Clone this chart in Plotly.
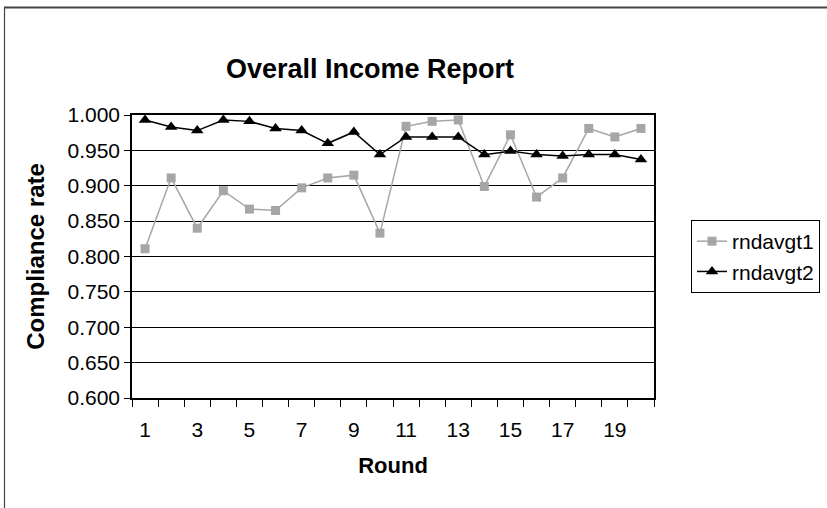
import plotly.graph_objects as go

rounds = list(range(1, 21))
rndavgt1 = [0.811, 0.911, 0.840, 0.893, 0.867, 0.865, 0.897, 0.911, 0.915, 0.833,
            0.984, 0.991, 0.993, 0.899, 0.972, 0.884, 0.911, 0.981, 0.969, 0.981]
rndavgt2 = [0.993, 0.983, 0.978, 0.993, 0.991, 0.981, 0.978, 0.960, 0.976, 0.944,
            0.969, 0.969, 0.969, 0.944, 0.949, 0.944, 0.942, 0.944, 0.944, 0.937]
xtick_vals = list(range(1, 21, 2))
ytick_vals = [0.60, 0.65, 0.70, 0.75, 0.80, 0.85, 0.90, 0.95, 1.00]

FONT = "Arial, Liberation Sans, sans-serif"

fig = go.Figure()
fig.add_trace(go.Scatter(
    x=rounds, y=rndavgt1, name="rndavgt1", mode="lines+markers",
    line=dict(color="#a6a6a6", width=1.5),
    marker=dict(symbol="square", size=9, color="#a6a6a6"),
))
fig.add_trace(go.Scatter(
    x=rounds, y=rndavgt2, name="rndavgt2", mode="lines+markers",
    line=dict(color="#000000", width=1.5),
    marker=dict(symbol="triangle-up", size=11, color="#000000"),
))

L, R, T, B = 132, 654, 115, 398
W, H = 827, 508

def px_x(p):
    return (p - L) / (R - L)

def px_y(p):
    return (B - p) / (B - T)

fig.update_layout(
    width=W, height=H,
    margin=dict(l=L, r=W - R, t=T, b=H - B, autoexpand=False),
    paper_bgcolor="white", plot_bgcolor="white",
    font=dict(family=FONT, color="#000000", size=21),
    title=dict(text="<b>Overall Income Report</b>", x=px_x(370), xref="paper", xanchor="center",
               y=1 - 69 / H, yanchor="middle", font=dict(size=27, family=FONT)),
    showlegend=True,
    legend=dict(x=px_x(691), y=px_y(220), xanchor="left", yanchor="top",
                bordercolor="#000000", borderwidth=1, bgcolor="white",
                font=dict(size=21, family=FONT), itemwidth=30,
                tracegroupgap=0),
    xaxis=dict(
        range=[0.5, 20.5], tickmode="array", tickvals=xtick_vals,
        ticktext=[str(v) for v in xtick_vals], ticks="",
        showgrid=False, zeroline=False,
        showline=True, linecolor="#000000", linewidth=1.5, mirror=True,
        minor=dict(tickmode="linear", tick0=0.5, dtick=1, ticks="outside",
                   ticklen=7, tickcolor="#000000", tickwidth=1, showgrid=False),
        title=dict(text="<b>Round</b>", font=dict(size=22, family=FONT), standoff=18),
        tickfont=dict(size=21), ticklabelstandoff=12,
    ),
    yaxis=dict(
        range=[0.6, 1.0], tickmode="array", tickvals=ytick_vals, tickformat=".3f",
        ticks="outside", ticklen=6, tickcolor="#000000",
        showgrid=True, gridcolor="#000000", gridwidth=1, zeroline=False,
        showline=True, linecolor="#000000", linewidth=1.5, mirror=True,
        title=dict(text="<b>Compliance rate</b>", font=dict(size=24, family=FONT), standoff=16),
        tickfont=dict(size=21),
    ),
    shapes=[
        dict(type="line", xref="paper", yref="paper", x0=px_x(4), x1=px_x(827),
             y0=px_y(7.5), y1=px_y(7.5), line=dict(color="#444444", width=2)),
        dict(type="line", xref="paper", yref="paper", x0=px_x(4.5), x1=px_x(4.5),
             y0=px_y(7), y1=px_y(508), line=dict(color="#444444", width=1.2)),
    ],
)

fig.write_html("out.html")
